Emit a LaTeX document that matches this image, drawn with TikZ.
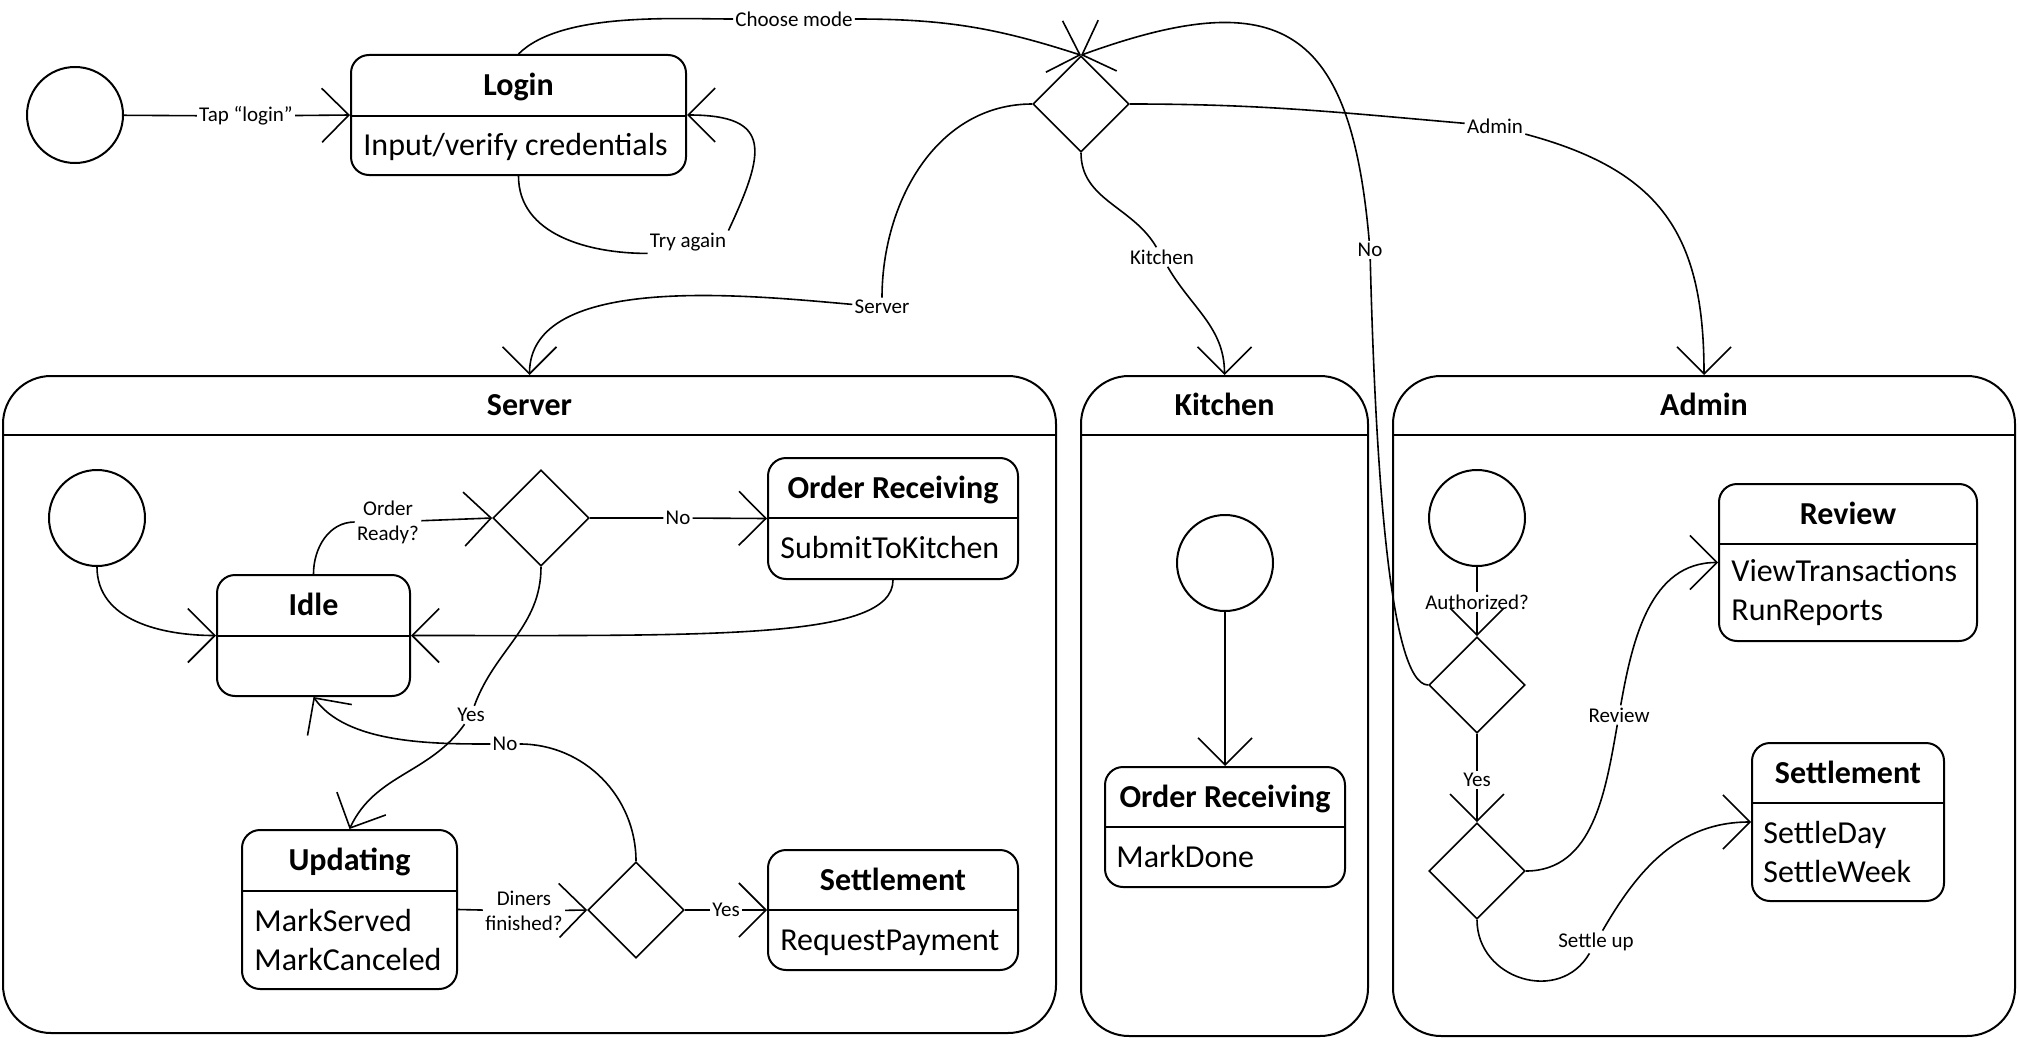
\documentclass[tikz,border=0pt]{standalone}
\usepackage{fontspec}
\setmainfont{Carlito}
\usetikzlibrary{arrows.meta,shapes.geometric,fit}

\begin{document}
\begin{tikzpicture}[
  x=0.5pt, y=0.5pt,
  lane/.style={draw, rounded corners=24pt, line width=1pt, inner sep=0pt},
  state/.style={draw, rounded corners=9pt, line width=1pt, inner sep=0pt},
  init/.style={circle, draw, line width=1pt, minimum size=48pt, inner sep=0pt},
  dec/.style={diamond, draw, line width=0.8pt, minimum width=48pt, minimum height=48pt, inner sep=0pt},
  ttl/.style={font=\fontsize{16}{19.5}\selectfont\bfseries, inner sep=0pt, text height=12pt, text depth=1.7pt},
  body/.style={font=\fontsize{16}{19.5}\selectfont, inner sep=0pt, anchor=west, text height=12pt, text depth=1.7pt},
  bodytwo/.style={font=\fontsize{16}{19.5}\selectfont, inner sep=0pt, anchor=west, align=left},
  lbl/.style={font=\fontsize{10.5}{12.5}\selectfont, inner sep=1pt, align=center},
  divider/.style={line width=1pt},
  arr/.style={-{Straight Barb[length=13.5pt,width=27pt]}, line width=0.8pt}
]
\useasboundingbox (0,0) rectangle (2018,-1038);

\node[init] (start) at (75,-115) {};
\node[state, fit={(351,-55) (686,-175)}] (login) {};
\node[ttl] (loginT) at (518.5,-85.5) {Login};
\node[body] (loginB) at (363,-145.5) {Input/verify credentials};
\draw[divider] (351,-116) -- (686,-116);
\node[dec] (mode) at (1081,-104) {};

\node[lane, fit={(3,-376) (1056,-1033)}] (server) {};
\node[ttl] (serverT) at (529.5,-405.5) {Server};
\draw[divider] (3,-435) -- (1056,-435);
\node[lane, fit={(1081,-376) (1368,-1036)}] (kitchen) {};
\node[ttl] (kitchenT) at (1224.5,-405.5) {Kitchen};
\draw[divider] (1081,-435) -- (1368,-435);
\node[lane, fit={(1393,-376) (2015,-1036)}] (admin) {};
\node[ttl] (adminT) at (1704,-405.5) {Admin};
\draw[divider] (1393,-435) -- (2015,-435);

\node[init] (sInit) at (97,-518) {};
\node[state, fit={(217,-575) (410,-696)}] (idle) {};
\node[ttl] (idleT) at (313.5,-605.5) {Idle};
\draw[divider] (217,-636) -- (410,-636);
\node[dec] (ready) at (541,-518) {};
\node[state, fit={(768,-458) (1018,-579)}] (ordRecv) {};
\node[ttl] (ordRecvT) at (893,-488) {Order Receiving};
\node[body] (ordRecvB) at (780,-548.5) {SubmitToKitchen};
\draw[divider] (768,-518) -- (1018,-518);
\node[state, fit={(242,-830) (457,-989)}] (upd) {};
\node[ttl] (updT) at (349.5,-860.5) {Updating};
\node[bodytwo] (updB) at (254,-940) {MarkServed\\MarkCanceled};
\draw[divider] (242,-891) -- (457,-891);
\node[dec] (fin) at (636,-910) {};
\node[state, fit={(768,-850) (1018,-970)}] (settle) {};
\node[ttl] (settleT) at (893,-880) {Settlement};
\node[body] (settleB) at (780,-940) {RequestPayment};
\draw[divider] (768,-910) -- (1018,-910);

\node[init] (kInit) at (1225,-563) {};
\node[state, fit={(1105,-767) (1345,-887)}] (kOrd) {};
\node[ttl] (kOrdT) at (1225,-797) {Order Receiving};
\node[body] (kOrdB) at (1116,-857) {MarkDone};
\draw[divider] (1105,-827) -- (1345,-827);

\node[init] (aInit) at (1477,-518) {};
\node[dec] (auth) at (1477,-685) {};
\node[dec] (task) at (1477,-871) {};
\node[state, fit={(1719,-484) (1977,-641)}] (review) {};
\node[ttl] (reviewT) at (1848,-514) {Review};
\node[bodytwo] (reviewB) at (1731,-592.5) {ViewTransactions\\RunReports};
\draw[divider] (1719,-544) -- (1977,-544);
\node[state, fit={(1752,-743) (1944,-901)}] (aSettle) {};
\node[ttl] (aSettleT) at (1848,-773) {Settlement};
\node[bodytwo] (aSettleB) at (1763,-852) {SettleDay\\SettleWeek};
\draw[divider] (1752,-803) -- (1944,-803);

\node[lbl] (lTap) at (246,-116) {Tap “login”};
\node[lbl] (lTry) at (688,-242) {Try again};
\node[lbl] (lMode) at (794,-19) {Choose mode};
\node[lbl] (lServer) at (882,-307) {Server};
\node[lbl] (lKitchen) at (1162,-257) {Kitchen};
\node[lbl] (lAdmin) at (1495,-126) {Admin};
\node[lbl] (lNo) at (1370,-250) {No};
\node[lbl] (lReady) at (388,-522) {Order\\Ready?};
\node[lbl] (lNoRecv) at (678,-518) {No};
\node[lbl] (lYesUpd) at (471,-715) {Yes};
\node[lbl] (lNoIdle) at (505,-744) {No};
\node[lbl] (lDiners) at (524,-911) {Diners\\finished?};
\node[lbl] (lYesSettle) at (726,-910) {Yes};
\node[lbl] (lAuth) at (1477,-602) {Authorized?};
\node[lbl] (lYesTask) at (1477,-780) {Yes};
\node[lbl] (lReview) at (1619,-715) {Review};
\node[lbl] (lSettle) at (1596,-942) {Settle up};

\draw[arr] (start) -- (lTap) -- (login.west);
\draw[arr] (login.south) to[out=270,in=180] (lTry.south west) (lTry.north east) to[out=65,in=0,looseness=1.8] (login.east);
\draw[arr] (login.north) to[out=45,in=180,looseness=0.7] (lMode) to[out=0,in=162] (mode.north);
\draw[arr] (mode.west) to[out=180,in=90] (lServer) to[out=175,in=90,looseness=0.8] (server.north);
\draw[arr] (mode.south) to[out=270,in=120] (lKitchen) to[out=-60,in=90] (kitchen.north);
\draw[arr] (mode.east) to[out=0,in=175] (lAdmin) to[out=-15,in=90,looseness=1.2] (admin.north);
\draw[arr] (auth.west) .. controls +(-40,0) and +(5,-200) .. (lNo) to[out=95,in=20,looseness=1.6] (mode.north);

\draw[arr] (sInit.south) to[out=270,in=180] (idle.west);
\draw[arr] (idle.north) to[out=90,in=180] (lReady) -- (ready.west);
\draw[arr] (ready.east) -- (lNoRecv) -- (ordRecv.west);
\draw[arr] (ordRecv.south) .. controls +(0,-60) and +(300,0) .. (idle.east);
\draw[arr] (ready.south) to[out=270,in=70] (lYesUpd) to[out=235,in=65] (upd.north);
\draw[arr] (fin.north) to[out=90,in=0] (lNoIdle) to[out=180,in=-55,looseness=0.8] (idle.south);
\draw[arr] (upd.east) -- (lDiners) -- (fin.west);
\draw[arr] (fin.east) -- (lYesSettle) -- (settle.west);

\draw[arr] (kInit) -- (kOrd);

\draw[arr] (aInit) -- (lAuth) -- (auth.north);
\draw[arr] (auth.south) -- (lYesTask) -- (task.north);
\draw[arr] (task.east) to[out=0,in=260] (lReview) to[out=80,in=180] (review.west);
\draw[arr] (task.south) to[out=270,in=240,looseness=1.3] (lSettle) to[out=60,in=180] (aSettle.west);

\end{tikzpicture}
\end{document}
